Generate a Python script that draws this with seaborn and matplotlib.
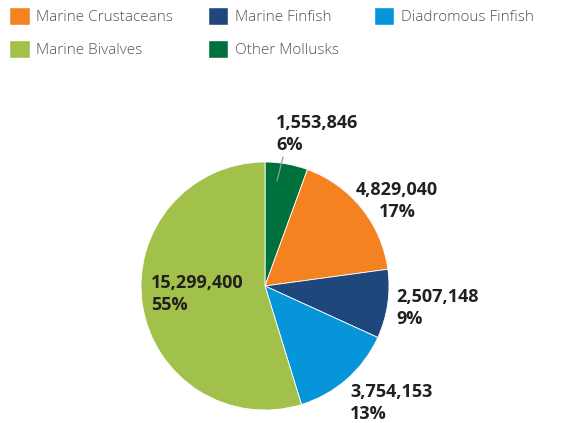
import matplotlib
matplotlib.use("Agg")
import matplotlib.pyplot as plt
import matplotlib.patches as mpatches
import seaborn as sb

# pie order: clockwise from 12 o'clock
categories = ["Other Mollusks", "Marine Crustaceans", "Marine Finfish",
              "Diadromous Finfish", "Marine Bivalves"]
values = [1553846, 4829040, 2507148, 3754153, 15299400]
percents = ["6%", "17%", "9%", "13%", "55%"]
colors = ["#00703c", "#f58220", "#1f477c", "#0795d9", "#a2c14a"]

legend_order = ["Marine Crustaceans", "Marine Bivalves", "Marine Finfish",
                "Other Mollusks", "Diadromous Finfish"]

sb.set_style("white")
plt.rcParams['font.family'] = ['Open Sans', 'DejaVu Sans']

fig = plt.figure(figsize=(5.75, 4.23), dpi=100)
ax = fig.add_axes([0, 0, 1, 1])
ax.set_aspect("equal")
ax.axis("off")

ax.pie(values, colors=colors, startangle=90, counterclock=False,
       center=(265, 137), radius=124,
       wedgeprops=dict(edgecolor="white", linewidth=0.6))
ax.set_xlim(0, 575)
ax.set_ylim(0, 423)

lab_style = dict(fontsize=13, fontweight="bold", color="#231f20",
                 va="top", linespacing=1.3)
labels = [f"{v:,}\n{p}" for v, p in zip(values, percents)]
# label anchors (top-left of text block)
ax.text(276, 309, labels[0], ha="left", **lab_style)
ax.text(397, 242, labels[1], ha="center", multialignment="center", **lab_style)
ax.text(396, 135, labels[2], ha="left", **lab_style)
ax.text(350, 40, labels[3], ha="left", **lab_style)
ax.text(151, 149, labels[4], ha="left", **lab_style)
# leader line for the small slice
ax.plot([283, 277], [266, 242], color="#999999", lw=0.9)

handles = [mpatches.Patch(facecolor=colors[categories.index(c)], label=c)
           for c in legend_order]
fig.legend(handles=handles, loc="upper left", bbox_to_anchor=(-0.007, 1.013),
           ncol=3, frameon=False, fontsize=11, handlelength=1.35,
           handleheight=1.35, handletextpad=0.45, columnspacing=2.25,
           labelspacing=1.0, labelcolor="#555555", borderaxespad=0.45)
for t in fig.legends[0].get_texts():
    t.set_fontweight("light")

fig.savefig("out.png", dpi=100)
